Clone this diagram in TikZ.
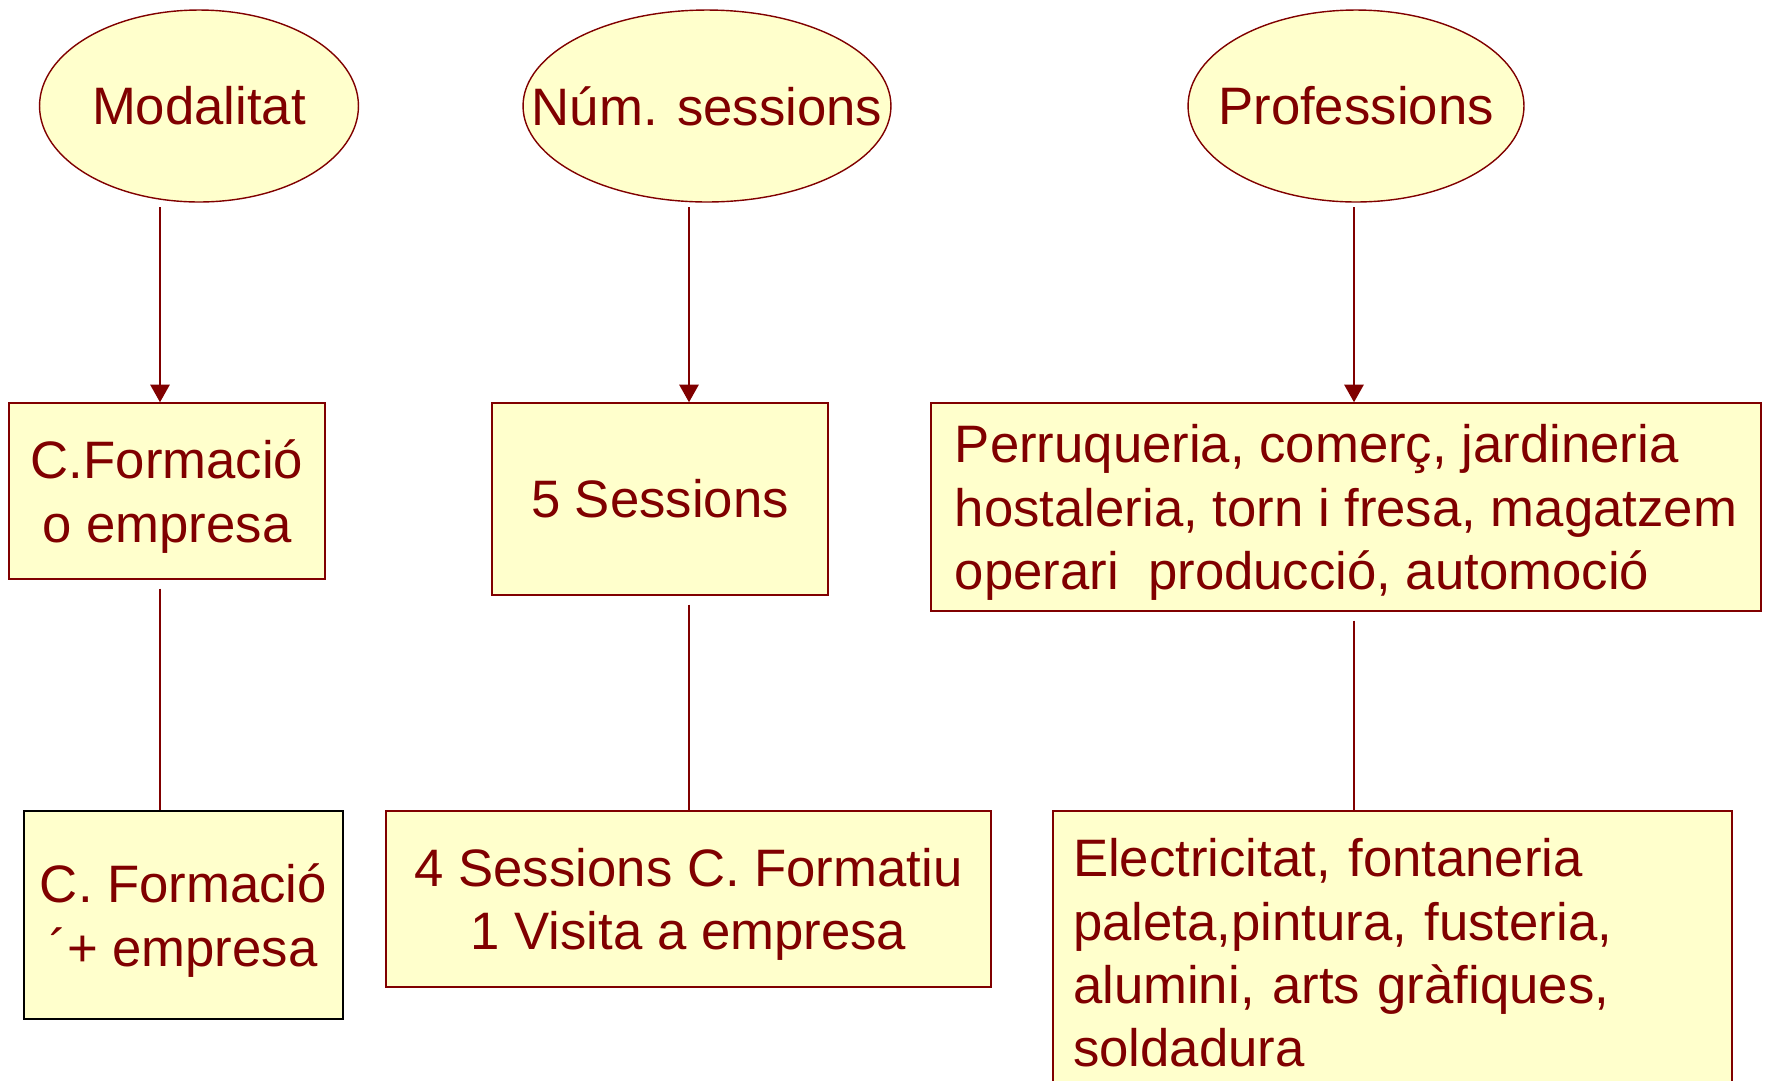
\documentclass[tikz,border=0pt]{standalone}
\usepackage{fontspec}
\setmainfont{Liberation Sans}
\usepackage{tikz}
\usetikzlibrary{arrows.meta,shapes.geometric}
\definecolor{cmaroon}{RGB}{128,0,0}
\definecolor{ccream}{RGB}{255,255,204}

\begin{document}
\begin{tikzpicture}[x=0.02cm, y=-0.02cm,
  topic/.style={ellipse, draw=cmaroon, fill=ccream, line width=0.8pt, inner sep=0pt, text=cmaroon},
  card/.style={rectangle, draw=cmaroon, fill=ccream, line width=0.9pt, inner sep=0pt, text=cmaroon, align=center, text depth=0pt},
  link/.style={cmaroon, line width=1pt},
  tip/.style={-{Triangle[width=11pt,length=10pt]}},
  font=\fontsize{30}{36}\selectfont]
\useasboundingbox (0,0) rectangle (1771,1080);
\clip (0,0) rectangle (1771,1080);
% Top ellipses
\node[topic, minimum width=6.38cm, minimum height=3.84cm] (mod) at (199,106) {\makebox[0pt]{Modalitat}};
\node[topic, minimum width=7.36cm, minimum height=3.84cm] (ses) at (707,106) {\makebox[0pt]{Núm. sessions}};
\node[topic, minimum width=6.72cm, minimum height=3.84cm] (pro) at (1356,106) {\makebox[0pt]{Professions}};
% Middle boxes
\node[card, minimum width=6.32cm, minimum height=3.52cm] (cf) at (167,491) {C.Formació\\o empresa};
\node[card, minimum width=6.72cm, minimum height=3.84cm, text depth=] (s5) at (660,499) {5 Sessions};
\node[card, minimum width=16.6cm, minimum height=4.16cm, align=left] (ofi) at (1346,507)
      {Perruqueria, comerç, jardineria\\hostaleria, torn i fresa, magatzem\\operari~ producció, automoció};
% Bottom boxes
\node[card, draw=black, minimum width=6.38cm, minimum height=4.16cm] (cfe) at (183.5,915) {C. Formació\\´+ empresa};
\node[card, minimum width=12.1cm, minimum height=3.52cm] (s4) at (688.5,899) {4 Sessions C. Formatiu\\1 Visita a empresa};
\node[card, minimum width=13.58cm, minimum height=5.68cm, inner xsep=0.4cm,
      text width=12.78cm, align=left, text depth=] (ofi2) at (1392.5,953)
      {Electricitat, fontaneria\\paleta,pintura, fusteria,\\alumini, arts gràfiques,\\soldadura};
% Connectors
\coordinate (m0) at (160,207);
\coordinate (s0) at (689,207);
\coordinate (p0) at (1354,207);
\draw[link, tip] (m0) -- (m0 |- cf.north);
\draw[link, tip] (s0) -- (s0 |- s5.north);
\draw[link, tip] (p0) -- (p0 |- ofi.north);
\draw[link] ([yshift=-5pt]m0 |- cf.south) -- (m0 |- cfe.north);
\draw[link] ([yshift=-5pt]s0 |- s5.south) -- (s0 |- s4.north);
\draw[link] ([yshift=-5pt]p0 |- ofi.south) -- (p0 |- ofi2.north);
\end{tikzpicture}
\end{document}
